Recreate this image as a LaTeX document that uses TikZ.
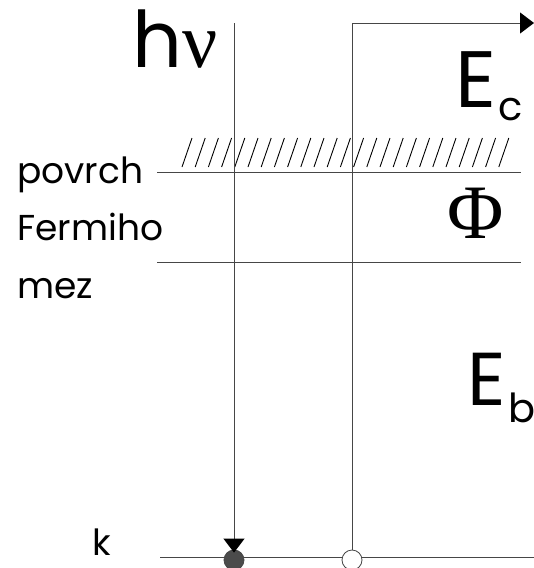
\documentclass[tikz,border=0pt]{standalone}
\usepackage{fontspec}
\setmainfont{Poppins}
\newfontfamily\grkfont{Liberation Serif}
\usetikzlibrary{arrows.meta,positioning}
\definecolor{linegray}{RGB}{70,70,70}
\definecolor{dotgray}{RGB}{75,75,75}
\newcommand{\fsz}[1]{\fontsize{#1}{#1}\selectfont}
\tikzset{
  lbl/.style={inner sep=0pt,anchor=base west,text=black},
  lvl/.style={draw=linegray,line width=1pt},
  hatch/.style={draw=black,line width=0.9pt},
  ray/.style={draw=linegray,line width=1pt,
              -{Triangle[length=14pt,width=21pt,color=black,fill=black]}},
  dot/.style={circle,draw=linegray,line width=0.8pt,minimum size=20pt,inner sep=0pt},
}

\begin{document}
\begin{tikzpicture}[x=1pt,y=-1pt]
  \useasboundingbox (0,0) rectangle (534,568);

  % levels
  \coordinate (surfL) at (157,172);  \coordinate (surfR) at (521,172);
  \coordinate (fermL) at (157,262);  \coordinate (fermR) at (521,262);
  \coordinate (kL)    at (160,557);  \coordinate (kR)    at (534,557);
  \draw[lvl] (surfL) -- (surfR);
  \draw[lvl] (fermL) -- (fermR);
  \draw[lvl] (kL) -- (kR);

  % surface hatching
  \foreach \i in {0,...,24}
    \draw[hatch] (182+13.2*\i,167) -- ++(10,-29);

  % electron and hole at level k
  \node[dot,fill=dotgray] (elec) at (234,560) {};
  \node[dot,fill=white]   (hole) at (352,560) {};

  % photon absorption and emitted electron
  \coordinate (phtop) at (234,23);
  \coordinate (out)   at (534,23);
  \draw[ray,shorten >=-3pt] (phtop) -- (elec.north);
  \draw[ray] (hole.north) |- (out);

  % labels
  \node[lbl] (hnu) at (132,67) {\fsz{78}h{\grkfont ν}};
  \node[lbl] (Ec)  at (455,107) {\fsz{80}E};
  \node[lbl] (Ecs) at ([xshift=2pt,yshift=-13pt]Ec.base east) {\fsz{40}c};
  \node[lbl] (phi) at (447,238) {\fsz{77}\grkfont Φ};
  \node[lbl] (Eb)  at (467,405) {\fsz{75}E};
  \node[lbl] (Ebs) at ([xshift=2pt,yshift=-17pt]Eb.base east) {\fsz{40}b};

  \node[lbl] (povrch)  at (17,183) {\fsz{36}povrch};
  \node[lbl] (fermiho) at (17,240) {\fsz{36}Fermiho};
  \node[lbl] (mez)     at (17,298) {\fsz{36}mez};
  \node[lbl] (klbl)    at (92,555) {\fsz{36}k};
\end{tikzpicture}
\end{document}
